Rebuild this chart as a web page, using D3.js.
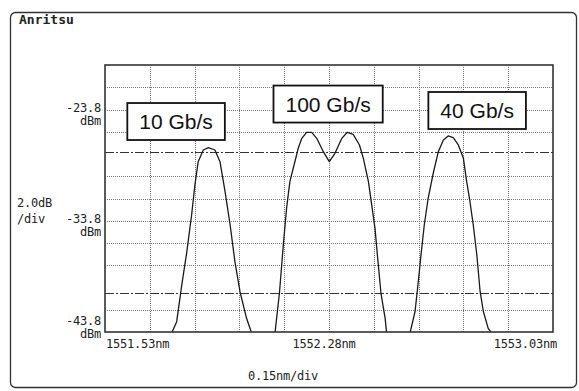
<!DOCTYPE html>
<html>
<head>
<meta charset="utf-8">
<script src="https://cdn.jsdelivr.net/npm/d3@7"></script>
<style>
  body { margin: 0; background: #fff; }
  svg { display: block; }
  .mono { font-family: "DejaVu Sans Mono", monospace; font-size: 12px; letter-spacing: -0.2px; fill: #222; }
</style>
</head>
<body>
<svg id="osa"></svg>
<script>
var dimensions = {
    width: 579,
    height: 391,
    margin: {
        top: 65,
        bottom: 59,
        right: 26,
        left: 105
    }
}

// wavelength span (nm) and level span (dBm)
var xStart = 1551.53, xDiv = 0.15, xDivs = 10;
var yTop = -19.8, yDiv = 2.0, yDivs = 12;

var xTicks = [1551.53, 1552.28, 1553.03];
var xTickLabels = ['1551.53nm', '1552.28nm', '1553.03nm'];
var yTicks = [-23.8, -33.8, -43.8];
var yTickLabels = ['-23.8', '-33.8', '-43.8'];
var markerLevels = [-27.6, -40.3];

// traces
var nm10G  = [1551.753, 1551.770, 1551.787, 1551.804, 1551.820, 1551.831, 1551.842, 1551.859, 1551.876,
              1551.898, 1551.915, 1551.932, 1551.949, 1551.965, 1551.982, 1552.004, 1552.021];
var dbm10G = [-43.9, -42.87, -39.58, -36.58, -33.28, -30.59, -28.49, -27.44, -27.23,
              -27.44, -28.49, -31.19, -34.18, -37.48, -40.18, -42.57, -43.9];

var nm100G  = [1552.099, 1552.114, 1552.127, 1552.138, 1552.149, 1552.163, 1552.177, 1552.189, 1552.205,
               1552.222, 1552.239, 1552.261, 1552.281, 1552.300, 1552.323, 1552.341, 1552.361, 1552.382,
               1552.395, 1552.412, 1552.423, 1552.434, 1552.442, 1552.454, 1552.468, 1552.473];
var dbm100G = [-43.92, -40.32, -35.98, -32.68, -30.29, -28.79, -27.29, -26.39, -25.85,
               -25.85, -26.39, -27.59, -28.49, -27.74, -26.39, -25.85, -26.03, -26.99,
               -28.19, -30.29, -32.38, -34.48, -36.88, -40.32, -42.57, -43.92];

var nm40G  = [1552.551, 1552.568, 1552.579, 1552.588, 1552.599, 1552.612, 1552.629, 1552.646, 1552.663,
              1552.679, 1552.696, 1552.713, 1552.730, 1552.741, 1552.752, 1552.763, 1552.775, 1552.786,
              1552.797, 1552.813, 1552.825];
var dbm40G = [-43.92, -41.98, -39.28, -36.88, -34.18, -31.78, -29.53, -27.59, -26.54,
              -26.18, -26.33, -26.99, -28.19, -30.29, -32.09, -34.18, -36.88, -40.18,
              -41.98, -43.47, -43.92];

var labelText = ['10 Gb/s', '100 Gb/s', '40 Gb/s'];
var labelNm   = [1551.768, 1552.277, 1552.776];
var labelDbm  = [-24.88, -23.31, -23.89];

var traces = [
    nm10G.map((v, i) => ({ nm: v, dbm: dbm10G[i] })),
    nm100G.map((v, i) => ({ nm: v, dbm: dbm100G[i] })),
    nm40G.map((v, i) => ({ nm: v, dbm: dbm40G[i] }))
];

var svg = d3.select("#osa")
    .attr("width", dimensions.width)
    .attr("height", dimensions.height)

var plotLeft = dimensions.margin.left,
    plotRight = dimensions.width - dimensions.margin.right,
    plotTop = dimensions.margin.top,
    plotBottom = dimensions.height - dimensions.margin.bottom;

var xScale = d3.scaleLinear()
    .domain([xStart, xStart + xDiv * xDivs])
    .range([plotLeft, plotRight])
var yScale = d3.scaleLinear()
    .domain([yTop - yDiv * yDivs, yTop])
    .range([plotBottom, plotTop])

// outer instrument frame
svg.append("rect")
    .attr("x", 10.5).attr("y", 12.5)
    .attr("width", 566).attr("height", 375)
    .attr("rx", 5)
    .attr("fill", "#fff")
    .attr("stroke", "#333")
    .attr("stroke-width", 1.3)

svg.append("text")
    .attr("class", "mono")
    .attr("x", 19).attr("y", 24)
    .style("font-weight", "bold")
    .style("font-size", "13px")
    .style("letter-spacing", "0px")
    .text("Anritsu")

// grid (the marker lines sit over two of the level lines)
var grid = svg.append("g")
grid.selectAll(".vgrid")
    .data(d3.range(1, xDivs).map(i => xStart + i * xDiv))
    .enter().append("line")
    .attr("x1", d => Math.round(xScale(d)) + 0.5).attr("x2", d => Math.round(xScale(d)) + 0.5)
    .attr("y1", plotTop).attr("y2", plotBottom)
    .attr("stroke", "#777").attr("stroke-dasharray", "1,1")
grid.selectAll(".hgrid")
    .data(d3.range(1, yDivs).map(i => yTop - i * yDiv)
        .filter(v => !markerLevels.some(m => Math.abs(m - v) < 1.0)))
    .enter().append("line")
    .attr("x1", plotLeft).attr("x2", plotRight)
    .attr("y1", d => Math.round(yScale(d)) + 0.5).attr("y2", d => Math.round(yScale(d)) + 0.5)
    .attr("stroke", "#777").attr("stroke-dasharray", "1,1")

// dash-dot marker lines
svg.selectAll(".marker")
    .data(markerLevels)
    .enter().append("line")
    .attr("x1", plotLeft).attr("x2", plotRight)
    .attr("y1", d => Math.round(yScale(d)) + 0.5).attr("y2", d => Math.round(yScale(d)) + 0.5)
    .attr("stroke", "#333").attr("stroke-width", 1.1)
    .attr("stroke-dasharray", "9,2,2,2")

// traces
svg.append("clipPath").attr("id", "plotclip")
    .append("rect").attr("x", plotLeft).attr("y", plotTop)
    .attr("width", plotRight - plotLeft).attr("height", plotBottom - plotTop)

var line = d3.line()
    .x(d => xScale(d.nm))
    .y(d => yScale(d.dbm))

svg.append("g").attr("clip-path", "url(#plotclip)")
    .selectAll("path")
    .data(traces)
    .enter().append("path")
    .attr("d", line)
    .attr("fill", "none")
    .attr("stroke", "#1a1a1a")
    .attr("stroke-width", 1.3)
    .attr("stroke-linejoin", "round")

// plot border
svg.append("rect")
    .attr("x", plotLeft).attr("y", plotTop)
    .attr("width", plotRight - plotLeft).attr("height", plotBottom - plotTop)
    .attr("fill", "none")
    .attr("stroke", "#333")
    .attr("stroke-width", 1.6)

// y labels
var ylab = svg.selectAll(".ylab")
    .data(yTicks)
    .enter().append("g")
    .attr("transform", (d, i) => `translate(${plotLeft - 4},${yScale(d) + (i == yTicks.length - 1 ? -7 : 2.5)})`)
ylab.append("text").attr("class", "mono")
    .attr("text-anchor", "end")
    .text((d, i) => yTickLabels[i])
ylab.append("text").attr("class", "mono")
    .attr("text-anchor", "end")
    .attr("y", 12.5)
    .text("dBm")

svg.append("text").attr("class", "mono").attr("x", 17).attr("y", 207).text("2.0dB")
svg.append("text").attr("class", "mono").attr("x", 17).attr("y", 223).text("/div")

// x labels
svg.selectAll(".xlab")
    .data(xTicks)
    .enter().append("text")
    .attr("class", "mono")
    .attr("x", (d, i) => xScale(d) + [1, -5, 4][i])
    .attr("y", plotBottom + 16)
    .attr("text-anchor", (d, i) => ["start", "middle", "end"][i])
    .text((d, i) => xTickLabels[i])

svg.append("text").attr("class", "mono")
    .attr("x", xScale(xStart + xDiv * xDivs / 2) - 46)
    .attr("y", plotBottom + 48)
    .attr("text-anchor", "middle")
    .text("0.15nm/div")

// bit-rate callouts
var callout = svg.selectAll(".callout")
    .data(labelText)
    .enter().append("g")
    .attr("transform", (d, i) => `translate(${xScale(labelNm[i])},${yScale(labelDbm[i])})`)
callout.append("text")
    .attr("text-anchor", "middle")
    .attr("y", 7.5)
    .style("font-family", "'Liberation Sans', Arial, sans-serif")
    .style("font-size", "21px")
    .attr("fill", "#111")
    .text(d => d)
callout.insert("rect", "text")
    .each(function() {
        var bb = this.parentNode.querySelector("text").getBBox();
        d3.select(this)
            .attr("x", -bb.width / 2 - 12).attr("y", -18.5)
            .attr("width", bb.width + 24).attr("height", 37)
    })
    .attr("fill", "#fff")
    .attr("stroke", "#111")
    .attr("stroke-width", 1.8)
</script>
</body>
</html>
